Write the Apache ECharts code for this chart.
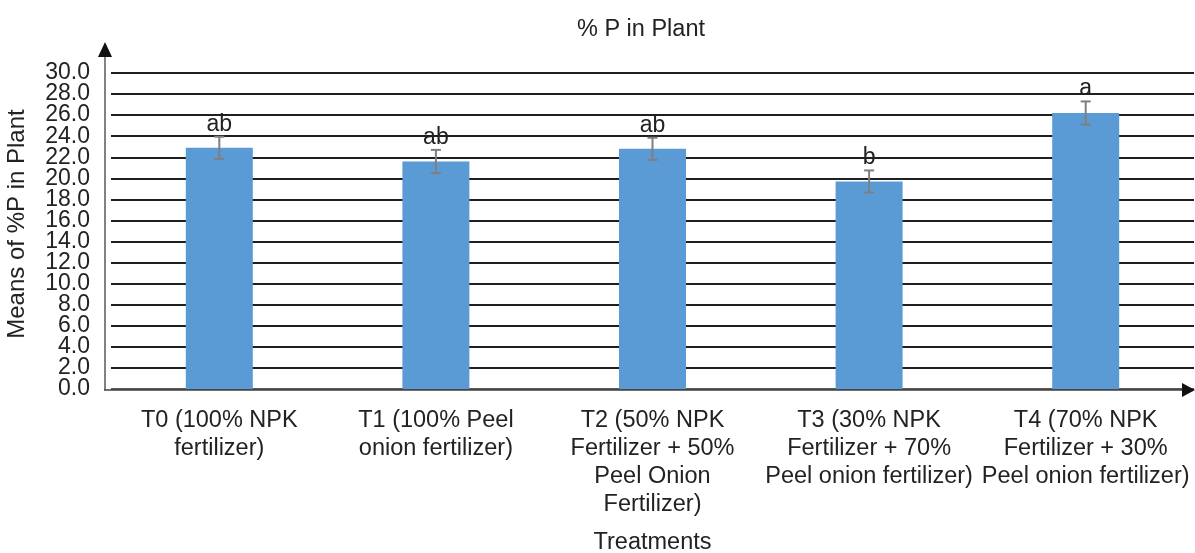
<!DOCTYPE html>
<html>
<head>
<meta charset="utf-8">
<script src="https://cdn.jsdelivr.net/npm/echarts@6/dist/echarts.min.js"></script>
<style>html,body{margin:0;padding:0;background:#fff}#c{width:1195px;height:553px}</style>
</head>
<body>
<div id="c"></div>
<script>
const categories = [
  "T0 (100% NPK\nfertilizer)",
  "T1 (100% Peel\nonion fertilizer)",
  "T2 (50% NPK\nFertilizer + 50%\nPeel Onion\nFertilizer)",
  "T3 (30% NPK\nFertilizer + 70%\nPeel onion fertilizer)",
  "T4 (70% NPK\nFertilizer + 30%\nPeel onion fertilizer)"
];
const means = [22.9, 21.6, 22.8, 19.7, 26.2];
const errors = [1.05, 1.1, 1.05, 1.05, 1.1];
const letters = ["ab", "ab", "ab", "b", "a"];
const yTicks = [0, 2, 4, 6, 8, 10, 12, 14, 16, 18, 20, 22, 24, 26, 28, 30];

const FONT = 'Liberation Sans, Arial, sans-serif';
const FS = 23;
const chart = echarts.init(document.getElementById('c'), null, {renderer: 'canvas'});

const gridColors = ['#595959'];
for (let i = 1; i < yTicks.length; i++) gridColors.push('#1f1f1f');

function yAxisDef(vals, main) {
  return {
    type: 'value',
    min: 0, max: 30, interval: 2,
    position: 'left',
    axisLine: {show: false},
    axisTick: {show: false},
    axisLabel: {
      margin: 21, color: '#222', fontFamily: FONT, fontSize: FS,
      customValues: vals,
      formatter: v => v.toFixed(1)
    },
    splitLine: {show: main, lineStyle: {color: gridColors, width: 2}},
    name: main ? 'Means of %P in Plant' : '',
    nameLocation: 'middle',
    nameGap: 82,
    nameTextStyle: {fontFamily: FONT, fontSize: 24, color: '#222', padding: [0, 0, 0, 14]}
  };
}

chart.setOption({
  animation: false,
  title: {
    text: '% P in Plant',
    left: 636, top: 13, textAlign: 'center',
    textStyle: {fontFamily: FONT, fontSize: 23.5, fontWeight: 'normal', color: '#222'}
  },
  grid: {left: 111, right: 1, top: 73, bottom: 164, containLabel: false, outerBoundsMode: 'none'},
  xAxis: {
    type: 'category',
    data: categories,
    axisLine: {show: false},
    axisTick: {show: false},
    axisLabel: {
      interval: 0, margin: 18, color: '#222',
      fontFamily: FONT, fontSize: 23.5, lineHeight: 28, align: 'center'
    },
    name: 'Treatments',
    nameLocation: 'middle',
    nameGap: 142,
    nameTextStyle: {fontFamily: FONT, fontSize: 23.5, color: '#222'}
  },
  yAxis: [
    yAxisDef(yTicks.filter((v, i) => i % 2 === 0), true),
    yAxisDef(yTicks.filter((v, i) => i % 2 === 1), false)
  ],
  series: [
    {
      type: 'bar',
      data: means,
      barWidth: 67,
      yAxisIndex: 0,
      itemStyle: {color: '#5B9BD5'},
      z: 2
    },
    {
      type: 'custom',
      z: 5,
      yAxisIndex: 0,
      data: means.map((m, i) => [i, m, errors[i]]),
      encode: {x: 0, y: 1},
      renderItem: function (params, api) {
        const i = api.value(0), v = api.value(1), e = api.value(2);
        const top = api.coord([i, v + e]);
        const bot = api.coord([i, v - e]);
        const cap = 5;
        const st = {stroke: '#7F7F7F', lineWidth: 2};
        return {
          type: 'group',
          children: [
            {type: 'line', shape: {x1: top[0], y1: top[1], x2: bot[0], y2: bot[1]}, style: st},
            {type: 'line', shape: {x1: top[0] - cap, y1: top[1], x2: top[0] + cap, y2: top[1]}, style: st},
            {type: 'line', shape: {x1: bot[0] - cap, y1: bot[1], x2: bot[0] + cap, y2: bot[1]}, style: st},
            {type: 'text', style: {
              text: letters[i], x: top[0], y: top[1] - 1,
              align: 'center', verticalAlign: 'bottom',
              fill: '#222', font: FS + 'px ' + FONT
            }}
          ]
        };
      }
    }
  ],
  graphic: [
    {type: 'line', shape: {x1: 105, y1: 390, x2: 105, y2: 56}, style: {stroke: '#404040', lineWidth: 1.3}, z: 10},
    {type: 'polygon', shape: {points: [[105, 42], [98, 57], [112, 57]]}, style: {fill: '#111'}, z: 10},
    {type: 'line', shape: {x1: 104, y1: 390, x2: 1184, y2: 390}, style: {stroke: '#404040', lineWidth: 1.3}, z: 10},
    {type: 'polygon', shape: {points: [[1195, 390], [1182, 383], [1182, 397]]}, style: {fill: '#111'}, z: 10}
  ]
});
</script>
</body>
</html>
